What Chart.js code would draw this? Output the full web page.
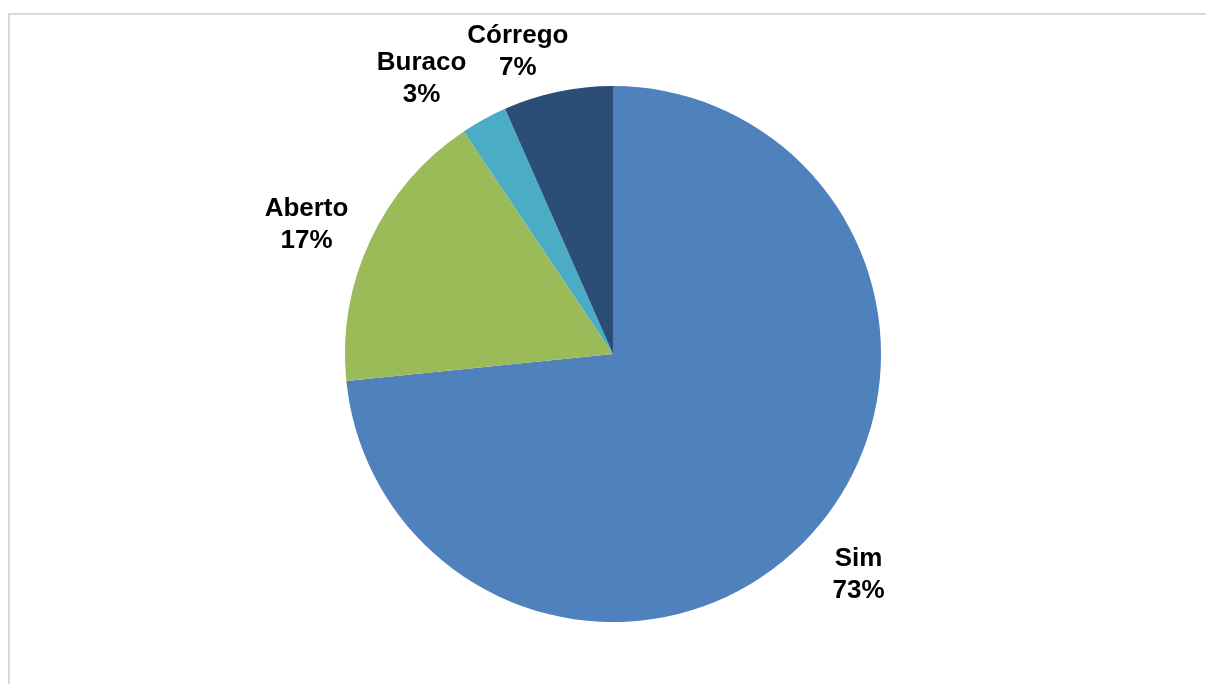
<!DOCTYPE html>
<html>
<head>
<meta charset="utf-8">
<script src="https://cdn.jsdelivr.net/npm/chart.js@4.4.1/dist/chart.umd.min.js"></script>
<style>
  html, body { margin: 0; padding: 0; background: #ffffff; }
  #wrap { position: relative; width: 1206px; height: 684px; }
</style>
</head>
<body>
<div id="wrap"><canvas id="c" width="1206" height="684"></canvas></div>
<script>
const categories = ['Sim', 'Aberto', 'Buraco', 'Córrego'];
const values = [73.4, 17.2, 2.8, 6.6];
const colors = ['#4F81BD', '#9BBB59', '#4BACC6', '#2C4D75'];

// per-label nudges (px), styling only
const labelNudge = [[0, -1], [-7, 12], [-32, 15], [-27, 22]];

const framePlugin = {
  id: 'frame',
  beforeDraw(chart) {
    const ctx = chart.ctx;
    ctx.save();
    ctx.fillStyle = '#ffffff';
    ctx.fillRect(0, 0, chart.width, chart.height);
    ctx.strokeStyle = '#D9D9D9';
    ctx.lineWidth = 2;
    ctx.beginPath();
    ctx.moveTo(9, chart.height);
    ctx.lineTo(9, 14);
    ctx.lineTo(chart.width, 14);
    ctx.stroke();
    ctx.restore();
  }
};

const labelPlugin = {
  id: 'outLabels',
  afterDatasetsDraw(chart) {
    const ctx = chart.ctx;
    const meta = chart.getDatasetMeta(0);
    const data = chart.data.datasets[0].data;
    const total = data.reduce((a, b) => a + b, 0);
    ctx.save();
    ctx.font = 'bold 26px "Liberation Sans", Arial, sans-serif';
    ctx.fillStyle = '#000000';
    ctx.textAlign = 'center';
    ctx.textBaseline = 'middle';
    meta.data.forEach((arc, i) => {
      const p = arc.getProps(['x', 'y', 'startAngle', 'endAngle', 'outerRadius'], true);
      const mid = (p.startAngle + p.endAngle) / 2;
      const r = p.outerRadius * 1.235;
      const x = p.x + Math.cos(mid) * r + labelNudge[i][0];
      const y = p.y + Math.sin(mid) * r + labelNudge[i][1];
      const pct = Math.round(data[i] / total * 100) + '%';
      ctx.fillText(chart.data.labels[i], x, y - 16);
      ctx.fillText(pct, x, y + 16);
    });
    ctx.restore();
  }
};

new Chart(document.getElementById('c'), {
  type: 'pie',
  data: {
    labels: categories,
    datasets: [{
      data: values,
      backgroundColor: colors,
      borderWidth: 0
    }]
  },
  options: {
    responsive: false,
    animation: false,
    layout: { padding: { top: 86, bottom: 62, left: 30, right: 10 } },
    plugins: {
      legend: { display: false },
      tooltip: { enabled: false }
    }
  },
  plugins: [framePlugin, labelPlugin]
});
</script>
</body>
</html>
